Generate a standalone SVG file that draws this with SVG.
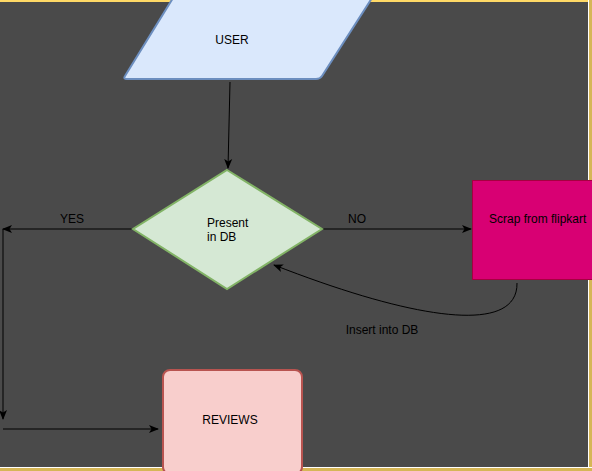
<svg xmlns="http://www.w3.org/2000/svg" width="592" height="471" viewBox="0 0 592 471">
<style>
text{font-family:"Liberation Sans",Arial,sans-serif;font-size:12px;fill:#000}
.c{text-anchor:middle}
.ln{fill:none;stroke:#000;stroke-width:1}
</style>
<defs>
<marker id="ah" viewBox="0 0 10 10" refX="9" refY="5" markerWidth="10" markerHeight="10" markerUnits="userSpaceOnUse" orient="auto">
<path d="M0,1 L10,5 L0,9 L2.5,5 Z" fill="#000"/>
</marker>
</defs>
<rect x="0" y="0" width="592" height="471" fill="#4a4a4a"/>
<rect x="0" y="0" width="592" height="2" fill="#ffd966"/>
<rect x="588" y="0" width="1" height="468" fill="#ffffff"/>
<rect x="589" y="0" width="3" height="471" fill="#d6b656"/>
<rect x="0" y="467" width="592" height="1" fill="#ffffff"/>
<rect x="0" y="468" width="592" height="3" fill="#d6b656"/>
<g id="connectors">
<path class="ln" d="M230,82 L228,168" marker-end="url(#ah)"/>
<path class="ln" d="M133,229 L3,229" marker-end="url(#ah)"/>
<path class="ln" d="M3,229 L3,419" marker-end="url(#ah)"/>
<path class="ln" d="M3,429 L158,429" marker-end="url(#ah)"/>
<path class="ln" d="M322,229 L471,229" marker-end="url(#ah)"/>
<path class="ln" d="M517,283 C518,334 420,322 274,265" marker-end="url(#ah)"/>
<text x="72" y="223" class="c">YES</text>
<text x="357" y="223" class="c">NO</text>
<text x="382" y="334" class="c">Insert into DB</text>
</g>
<g id="user">
<path d="M173,-2 L372,-2 L322,76 Q320,79 316,79 L127,79 Q123,79 125,76 Z" fill="#dae8fc" stroke="#6c8ebf" stroke-width="2"/>
<text x="232" y="44" class="c">USER</text>
</g>
<g id="present">
<path d="M227,170 L322,229 L227,289 L133,229 Z" fill="#d5e8d4" stroke="#82b366" stroke-width="2"/>
<text x="207" y="227">Present</text>
<text x="207" y="241">in DB</text>
</g>
<g id="scrap">
<rect x="472.5" y="180.5" width="125" height="99" fill="#d80073" stroke="#a50040"/>
<text x="489" y="223">Scrap from flipkart</text>
</g>
<g id="reviews">
<rect x="163" y="370" width="139" height="104" rx="7" fill="#f8cecc" stroke="#b85450" stroke-width="2"/>
<text x="230" y="424" class="c">REVIEWS</text>
</g>
</svg>
